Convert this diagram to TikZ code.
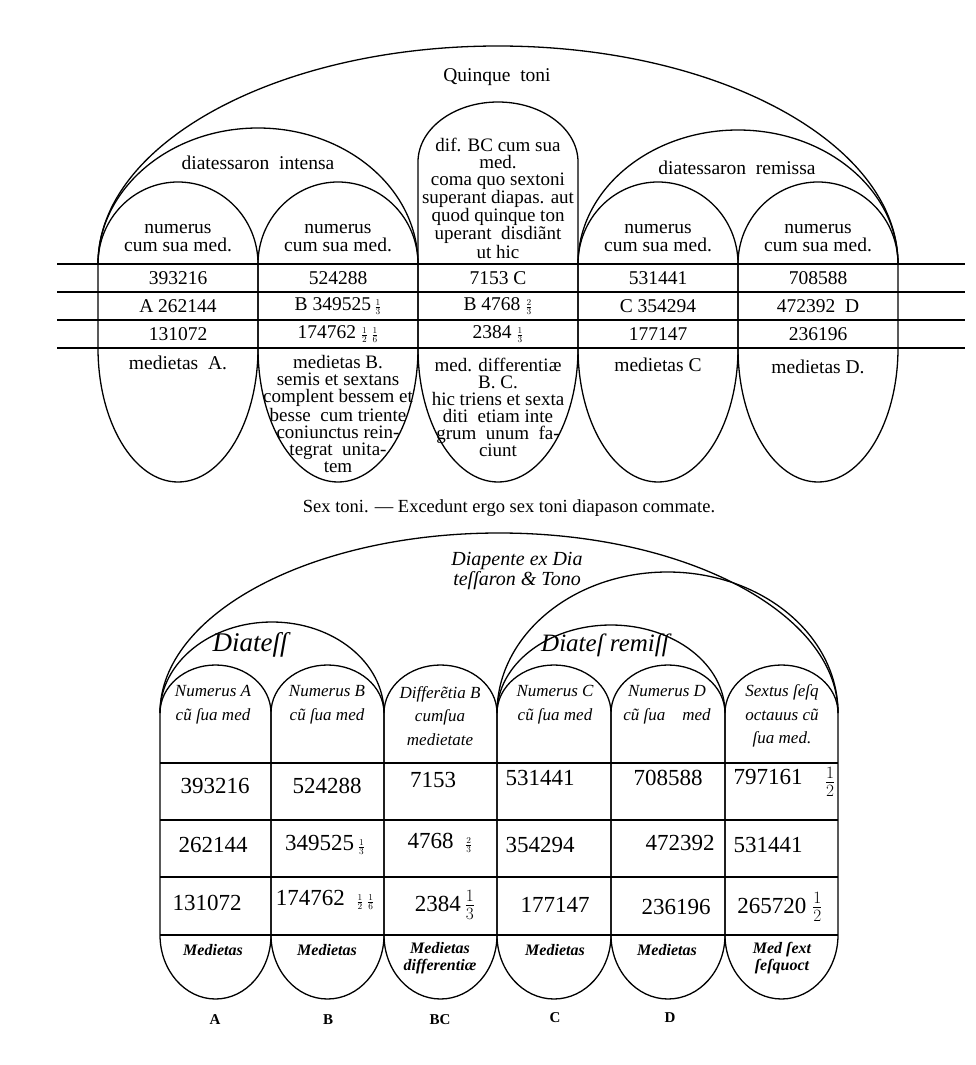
\documentclass[tikz,border=0pt]{standalone}
\usepackage{fontspec}
\setmainfont{Liberation Serif}
\newcommand\mfr[2]{{\fontsize{13}{13}\selectfont$\frac{#1}{#2}$}}
\newcommand\tfr[2]{$\textstyle\frac{#1}{#2}$}
\begin{document}
\begin{tikzpicture}[x=1pt,y=-1pt,line width=1.3pt,
  prt/.style={font=\fontsize{19.5}{17}\selectfont, align=center, inner sep=0pt},
  num/.style={font=\fontsize{19.5}{19.5}\selectfont, inner sep=0pt},
  hand/.style={font=\itshape\fontsize{17}{24}\selectfont, align=center, inner sep=0pt},
  hnum/.style={font=\fontsize{23}{23}\selectfont, inner sep=0pt},
  hbot/.style={font=\bfseries\itshape\fontsize{16}{17}\selectfont, align=center, inner sep=0pt},
  lab/.style={font=\bfseries\fontsize{15}{15}\selectfont, inner sep=0pt}]
\useasboundingbox (0,0) rectangle (975,1065);

% ---------------- upper figure ----------------
\foreach \y in {264,292,320,348} \draw (57,\y) -- (965,\y);
\foreach \a/\b in {98/258,258/418,578/738,738/898}
  \draw (\a,264) arc[start angle=180,end angle=0,x radius=80pt,y radius=82pt]
        -- (\b,348) arc[start angle=0,end angle=-180,x radius=80pt,y radius=134pt] -- cycle;
\draw (418,264) -- (418,162) arc[start angle=180,end angle=0,x radius=80pt,y radius=60pt]
      -- (578,348) arc[start angle=0,end angle=-180,x radius=80pt,y radius=134pt] -- cycle;
\draw (98,264) arc[start angle=180,end angle=0,x radius=400pt,y radius=218pt];
\draw (98,264) arc[start angle=180,end angle=0,x radius=160pt,y radius=136pt];
\draw (578,264) arc[start angle=180,end angle=0,x radius=160pt,y radius=134pt];

\node[prt] (qt) at (497,77) {Quinque\enspace toni};
\node[prt] (di) at (258,163) {diatessaron\enspace intensa};
\node[prt] (dr) at (737,168) {diatessaron\enspace remissa};

\node[prt,font=\fontsize{19.5}{18}\selectfont] (ha) at (178,238) {numerus\\cum sua med.};
\node[prt,font=\fontsize{19.5}{18}\selectfont] (hb) at (338,238) {numerus\\cum sua med.};
\node[prt,font=\fontsize{19}{17}\selectfont] (hc) at (498,198) {dif. BC cum sua\\med.\\coma quo sextoni\\superant diapas. aut\\quod quinque ton\\uperant\enspace disdiãnt\\ut hic};
\node[prt,font=\fontsize{19.5}{18}\selectfont] (hd) at (658,238) {numerus\\cum sua med.};
\node[prt,font=\fontsize{19.5}{18}\selectfont] (he) at (818,238) {numerus\\cum sua med.};

\node[num] (a1) at (178,278) {393216};
\node[num] (b1) at (338,278) {524288};
\node[num] (c1) at (498,278) {7153 C};
\node[num] (d1) at (658,278) {531441};
\node[num] (e1) at (818,278) {708588};
\node[num] (a2) at (178,306) {A 262144};
\node[num] (b2) at (338,306) {B 349525\,\mfr{1}{3}};
\node[num] (c2) at (498,306) {B 4768 \mfr{2}{3}};
\node[num] (d2) at (658,306) {C 354294};
\node[num] (e2) at (818,306) {472392\enspace D};
\node[num] (a3) at (178,334) {131072};
\node[num] (b3) at (338,334) {174762 \mfr{1}{2}\,\mfr{1}{6}};
\node[num] (c3) at (498,334) {2384 \mfr{1}{3}};
\node[num] (d3) at (658,334) {177147};
\node[num] (e3) at (818,334) {236196};

\node[prt] (ma) at (178,363) {medietas\enspace A.};
\node[prt,font=\fontsize{19}{17}\selectfont] (mb) at (338,414) {medietas B.\\semis et sextans\\complent bessem et\\besse\enspace cum triente\\coniunctus rein-\\tegrat\enspace unita-\\tem};
\node[prt,font=\fontsize{19}{17}\selectfont] (mc) at (498,407) {med. differentiæ\\B. C.\\hic triens et sexta\\diti\enspace etiam inte\\grum\enspace unum\enspace fa-\\ciunt};
\node[prt] (md) at (658,365) {medietas C};
\node[prt] (me) at (818,367) {medietas D.};

\node[prt,font=\fontsize{18.5}{18.5}\selectfont] (cap) at (509,508) {Sex toni. — Excedunt ergo sex toni diapason commate.};

% ---------------- lower figure ----------------
\foreach \y in {763,820,877,935} \draw (160,\y) -- (838,\y);
\foreach \a/\b/\r in {160/271/55.5,271/384/56.5,384/497/56.5,497/611/57,611/725/57,725/838/56.5}
  \draw (\a,713) arc[start angle=180,end angle=0,x radius=\r pt,y radius=48pt]
        -- (\b,935) arc[start angle=0,end angle=-180,x radius=\r pt,y radius=64pt] -- cycle;
\draw (160,713) arc[start angle=180,end angle=0,x radius=339pt,y radius=180pt];
\draw (160,713) arc[start angle=180,end angle=0,x radius=112pt,y radius=91pt];
\draw (497,713) arc[start angle=180,end angle=0,x radius=170.5pt,y radius=141pt];
\draw (497,713) arc[start angle=180,end angle=0,x radius=114pt,y radius=88pt];

\node[hand,font=\itshape\fontsize{20}{17}\selectfont] (dp) at (517,571) {Diapente ex Dia\\teſſaron \& Tono};
\node[hand,font=\itshape\fontsize{27}{27}\selectfont] (dt) at (250,645) {Diateſſ};
\node[hand,font=\itshape\fontsize{25}{25}\selectfont] (dtr) at (605,645) {Diateſ remiſſ};

\node[hand] (HA) at (213,705) {Numerus A\\cũ ſua med};
\node[hand] (HB) at (327,705) {Numerus B\\cũ ſua med};
\node[hand,font=\itshape\fontsize{17}{23.5}\selectfont] (HC) at (440,716) {Differẽtia B\\cumſua\\medietate};
\node[hand] (HD) at (555,705) {Numerus C\\cũ ſua med};
\node[hand] (HE) at (667,705) {Numerus D\\cũ ſua\quad med};
\node[hand,font=\itshape\fontsize{17}{23.5}\selectfont] (HF) at (782,716) {Sextus ſeſq\\octauus cũ\\ſua med.};

\node[hnum] (A1) at (215,786) {393216};
\node[hnum] (B1) at (327,786) {524288};
\node[hnum] (C1) at (433,780) {7153};
\node[hnum] (D1) at (540,778) {531441};
\node[hnum] (E1) at (668,778) {708588};
\node[hnum] (F1) at (768,777) {797161};
\node[hnum] (F1f) at (830,782) {\tfr{1}{2}};
\node[hnum] (A2) at (213,845) {262144};
\node[hnum] (B2) at (325,845) {349525\,\mfr{1}{3}};
\node[hnum] (C2) at (440,843) {4768\enspace\mfr{2}{3}};
\node[hnum] (D2) at (540,845) {354294};
\node[hnum] (E2) at (680,843) {472392};
\node[hnum] (F2) at (768,845) {531441};
\node[hnum] (A3) at (207,903) {131072};
\node[hnum] (B3) at (325,900) {174762\enspace\mfr{1}{2}\,\mfr{1}{6}};
\node[hnum] (C3) at (445,905) {2384\,\tfr{1}{3}};
\node[hnum] (D3) at (555,905) {177147};
\node[hnum] (E3) at (676,907) {236196};
\node[hnum] (F3) at (780,907) {265720 \tfr{1}{2}};

\node[hbot] (MA) at (213,950) {Medietas};
\node[hbot] (MB) at (327,950) {Medietas};
\node[hbot] (MC) at (440,958) {Medietas\\differentiæ};
\node[hbot] (MD) at (555,950) {Medietas};
\node[hbot] (ME) at (667,950) {Medietas};
\node[hbot] (MF) at (782,958) {Med ſext\\ſeſquoct};

\node[lab] (LA) at (215,1020) {A};
\node[lab] (LB) at (328,1020) {B};
\node[lab] (LBC) at (440,1020) {BC};
\node[lab] (LC) at (555,1018) {C};
\node[lab] (LD) at (670,1018) {D};
\end{tikzpicture}
\end{document}
